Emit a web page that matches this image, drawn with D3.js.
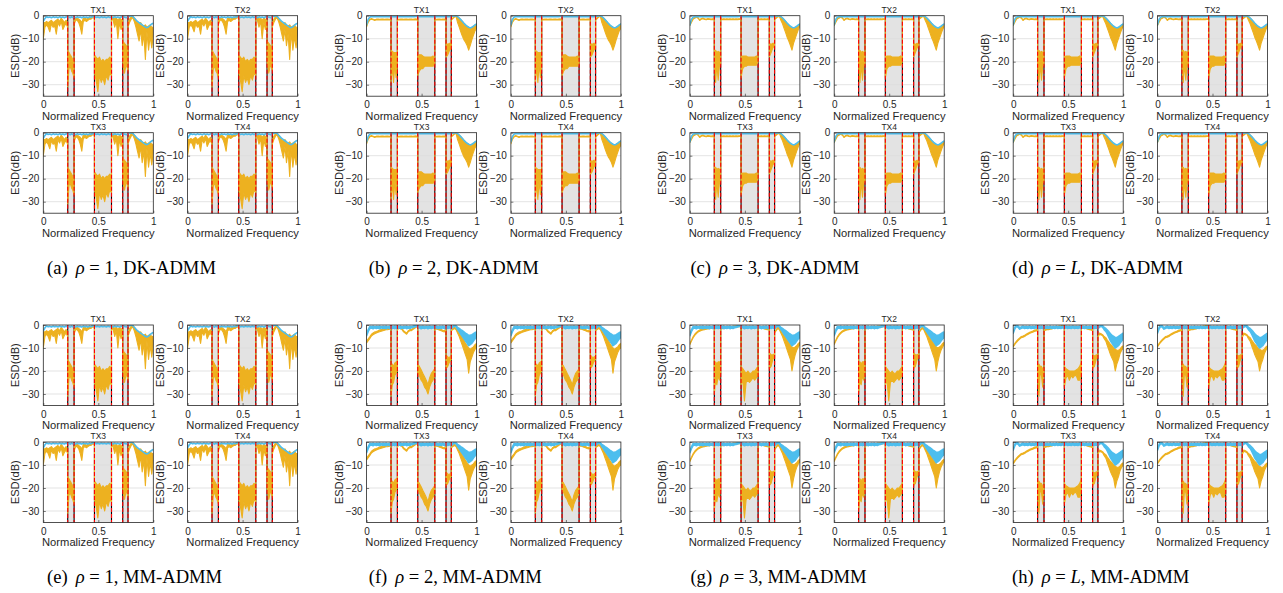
<!DOCTYPE html>
<html lang="en">
<head>
<meta charset="UTF-8">
<title>ESD per transmitter</title>
<script src="https://cdn.jsdelivr.net/npm/d3@7"></script>
<style>
  body { margin: 0; background: #fff; }
  svg { display: block; }
  text { font-family: "Liberation Sans", Arial, sans-serif; fill: #262626; }
  .caption { font-family: "Liberation Serif", "Times New Roman", serif; font-size: 18.6px; fill: #000; }
</style>
</head>
<body>
<svg id="fig" width="1283" height="593"></svg>
<script>
// frequency grid, one row per pass / stop segment (edges repeated so the drops stay vertical)
const freq = [
  0, 0.015, 0.03, 0.044, 0.059, 0.074, 0.089, 0.104, 0.118, 0.133, 0.148, 0.163, 0.178, 0.192, 0.207, 0.222,
  0.222, 0.234, 0.245, 0.257, 0.268, 0.28,
  0.28, 0.294, 0.308, 0.322, 0.336, 0.35, 0.364, 0.378, 0.392, 0.406, 0.42, 0.434, 0.45, 0.465,
  0.465, 0.48, 0.496, 0.511, 0.527, 0.542, 0.558, 0.573, 0.589, 0.604, 0.62,
  0.62, 0.635, 0.649, 0.664, 0.678, 0.693, 0.707, 0.722,
  0.722, 0.738, 0.754, 0.77,
  0.77, 0.784, 0.799, 0.813, 0.827, 0.842, 0.856, 0.871, 0.885, 0.899, 0.914, 0.928, 0.942, 0.957, 0.971, 0.986, 1
];
const stopBands = [[0.222, 0.28], [0.465, 0.62], [0.722, 0.77]];
const yTicks = [0, -10, -20, -30];
const xTicks = [0, 0.5, 1];
const txNames = ["TX1", "TX2", "TX3", "TX4"];
const panelLetters = ["(a)", "(b)", "(c)", "(d)", "(e)", "(f)", "(g)", "(h)"];
const panelRho = ["1", "2", "3", "L", "1", "2", "3", "L"];
const panelAlgo = ["DK-ADMM", "DK-ADMM", "DK-ADMM", "DK-ADMM", "MM-ADMM", "MM-ADMM", "MM-ADMM", "MM-ADMM"];

// ---- blue curves (dB) ----
const rho1Blue = [
  -2.5, -1.2, -0.4, -0.8, -0.6, -0.9, -0.5, -0.8, -0.6, -0.9, -0.5, -0.8, -0.6, -0.9, -0.5, -0.7,
  -0.7, -0.6, -0.9, -0.5, -0.8, -0.6,
  -0.6, -0.9, -0.5, -0.8, -0.6, -0.9, -0.5, -0.8, -0.6, -0.9, -0.5, -0.8, -0.3, -0.4,
  -0.4, -0.8, -0.6, -0.9, -0.5, -0.8, -0.6, -0.9, -0.5, -0.8, -0.6,
  -0.6, -0.9, -0.5, -0.8, -0.6, -0.9, -0.5, -0.7,
  -0.7, -0.6, -0.9, -0.5,
  -0.5, -0.3, 0, -0.3, -1.0, -1.8, -2.5, -3.0, -3.5, -4.0, -4.5, -5.0, -5.2, -4.8, -4.2, -3.6, -3.3
];
const dkBlue = [
  -4, -1.5, -0.6, -0.4, -0.3, -0.4, -0.3, -0.4, -0.3, -0.4, -0.3, -0.4, -0.3, -0.4, -0.3, -0.4,
  -0.4, -0.3, -0.4, -0.3, -0.4, -0.3,
  -0.3, -0.4, -0.3, -0.4, -0.3, -0.4, -0.3, -0.4, -0.3, -0.4, -0.3, -0.4, -0.3, -0.3,
  -0.3, -0.4, -0.3, -0.4, -0.3, -0.4, -0.3, -0.4, -0.3, -0.4, -0.3,
  -0.3, -0.4, -0.3, -0.4, -0.3, -0.4, -0.3, -0.4,
  -0.4, -0.3, -0.4, -0.3,
  -0.3, -0.2, -0.1, 0, -0.4, -1.0, -1.7, -2.5, -3.3, -4.0, -4.6, -5.0, -5.3, -5.0, -4.6, -4.0, -3.6
];
const mmBlueHi = [
  -4, -2, -0.6, -0.8, -0.5, -0.9, -0.6, -0.8, -0.5, -0.9, -0.6, -0.8, -0.5, -0.9, -0.6, -0.8,
  -0.8, -0.6, -0.8, -0.5, -0.9, -0.6,
  -0.6, -0.8, -0.5, -0.9, -0.6, -0.8, -0.5, -0.9, -0.6, -0.8, -0.5, -0.3, 0, -0.3,
  -0.3, -0.6, -0.8, -0.5, -0.9, -0.6, -0.8, -0.5, -0.9, -0.6, -0.8,
  -0.8, -0.5, -0.9, -0.6, -0.8, -0.5, -0.9, -0.6,
  -0.6, -0.8, -0.5, -0.9,
  -0.9, -0.5, 0, -0.3, -1, -1.5, -2, -2.5, -3, -3.5, -4, -4.5, -4.5, -4.2, -3.8, -3.3, -3
];
const mmBlueLo = [
  -4.6, -2.8, -1.5, -1.3, -1.6, -1.2, -1.5, -1.3, -1.6, -1.2, -1.5, -1.3, -1.6, -1.2, -1.5, -1.3,
  -1.3, -1.5, -1.2, -1.6, -1.3, -1.5,
  -1.5, -1.2, -1.6, -1.3, -1.5, -1.2, -1.6, -1.3, -1.5, -1.2, -1.1, -0.9, -0.6, -0.9,
  -0.9, -1.2, -1.6, -1.3, -1.5, -1.2, -1.6, -1.3, -1.5, -1.2, -1.4,
  -1.4, -1.2, -1.6, -1.3, -1.5, -1.2, -1.6, -1.3,
  -1.3, -1.5, -1.2, -1.6,
  -1.6, -1, -0.5, -0.8, -2, -3, -4, -5, -6, -7, -8, -9, -8.5, -8, -7, -6, -5.5
];
const mmLBlueHi = [
  -3, -1, 0, -0.4, -1.2, -0.8, -0.5, -0.9, -0.6, -0.9, -0.5, -0.9, -0.6, -0.9, -0.5, -0.9,
  -0.9, -0.5, -0.9, -0.6, -0.9, -0.5,
  -0.5, -0.9, -0.6, -0.9, -0.5, -0.9, -0.6, -0.9, -0.5, -0.9, -0.6, -0.9, -0.5, -0.9,
  -0.9, -0.5, -0.9, -0.6, -0.9, -0.5, -0.9, -0.6, -0.9, -0.5, -0.9,
  -0.9, -0.6, -0.9, -0.5, -0.9, -0.6, -0.9, -0.5,
  -0.5, -0.9, -0.6, -0.9,
  -0.9, -0.5, 0, -0.3, -1, -1.5, -2.2, -3, -3.8, -4.5, -5, -5.5, -5.5, -5, -4.5, -4, -3.5
];
const mmLBlueLo = [
  -3.6, -1.6, -0.6, -1, -1.8, -1.4, -1.2, -1.5, -1.3, -1.5, -1.2, -1.5, -1.3, -1.5, -1.2, -1.5,
  -1.5, -1.2, -1.5, -1.3, -1.5, -1.2,
  -1.2, -1.5, -1.3, -1.5, -1.2, -1.5, -1.3, -1.5, -1.2, -1.5, -1.3, -1.5, -1.2, -1.5,
  -1.5, -1.2, -1.5, -1.3, -1.5, -1.2, -1.5, -1.3, -1.5, -1.2, -1.5,
  -1.5, -1.3, -1.5, -1.2, -1.5, -1.3, -1.5, -1.2,
  -1.2, -1.5, -1.3, -1.5,
  -1.5, -1, -0.5, -1, -2, -2.8, -4, -5.5, -7, -8, -9, -10, -9.5, -9, -8, -7, -6
];

// ---- orange curves (dB), upper and lower envelope ----
const rho1OrangeHi = [
  -3, -3, -2.5, -3, -2.5, -2, -3, -2.5, -2, -1.5, -2.5, -1, -2, -3, -2, -3,
  -15, -16, -17, -18, -19, -20,
  -2, -1, -1, -1.5, -2, -3, -1, -1, -1.5, -1, -1, -0.5, 0, -0.5,
  -17, -18, -19, -18, -20, -19, -20, -19, -19, -18, -19,
  -1, -0.5, -1.5, -1, -2, -1, -1.5, -2,
  -11, -12, -13, -15,
  -3, -1.5, -0.5, 0, -1, -2, -3, -3.5, -3, -4, -4.5, -4, -5, -4.5, -4, -5, -5
];
const rho1OrangeLo = [
  -10, -5, -4, -5, -7, -3.5, -5, -4.5, -8, -3, -4.5, -2.5, -6, -4.5, -3.5, -5,
  -31, -23, -22, -24, -25, -27,
  -4, -2, -2, -3, -5, -8, -2.5, -2, -2.5, -2, -1.5, -1.5, -0.8, -1.2,
  -25, -28, -33, -26, -29, -27, -30, -26, -28, -25, -26,
  -1.5, -2, -5, -2.5, -10, -3, -6, -4,
  -20, -25, -21, -24,
  -5, -3, -1.5, -0.8, -2.5, -5, -8, -11, -6, -13, -8, -19, -7, -15, -9, -14, -8
];
const dk2OrangeHi = [
  -4.5, -2.5, -1.5, -1.2, -1.5, -1.8, -1.5, -1.4, -1.6, -1.5, -1.4, -1.6, -1.5, -1.4, -1.6, -1.5,
  -15, -15.5, -16, -16, -16, -16,
  -1.5, -1.6, -1.5, -1.4, -1.6, -1.5, -1.4, -1.6, -1.5, -1.4, -1.6, -1.5, -1.4, -1.5,
  -17.5, -17, -17, -17.5, -18, -18, -18, -18, -18, -17.5, -19,
  -1.5, -1.6, -1.5, -1.4, -1.6, -1.5, -1.4, -1.5,
  -12, -12.5, -12, -12,
  -1.5, -1, -0.3, 0, -0.5, -1, -1.7, -2.5, -3.3, -4, -4.6, -5, -5.2, -5, -4.6, -4, -3.6
];
const dk2OrangeLo = [
  -4.8, -2.8, -1.8, -1.5, -1.8, -2.1, -1.8, -1.7, -1.9, -1.8, -1.7, -1.9, -1.8, -1.7, -1.9, -1.8,
  -29, -22, -29, -21, -27, -22,
  -1.8, -1.9, -1.8, -1.7, -1.9, -1.8, -1.7, -1.9, -1.8, -1.7, -1.9, -1.8, -1.7, -1.8,
  -26, -24, -23, -23, -22, -22, -22, -22, -22, -22, -21,
  -1.8, -1.9, -1.8, -1.7, -1.9, -1.8, -1.7, -1.8,
  -18, -17, -15, -14,
  -1.8, -1.3, -0.6, -0.3, -3, -5, -7, -9, -10.5, -11.5, -13, -15, -13, -10.5, -8.5, -6.5, -5.5
];
const dk3OrangeHi = [
  -4, -2.5, -1.2, -0.8, -0.4, -0.8, -1.8, -1.2, -1, -1.3, -1.5, -1.2, -1.3, -1.4, -1.3, -1.4,
  -15, -15, -16, -15.5, -16, -15.5,
  -1.3, -1.4, -1.3, -1.4, -1.3, -1.4, -1.3, -1.4, -1.3, -1.4, -1.3, -1.4, -1.3, -1.3,
  -18, -17.5, -17.5, -17.5, -18, -18, -18, -18, -18, -17.5, -18.5,
  -1.3, -1.4, -1.3, -1.4, -1.3, -1.4, -1.3, -1.4,
  -12, -12.5, -12, -12,
  -1.3, -0.8, -0.2, 0, -0.4, -1, -1.7, -2.5, -3.3, -4, -4.8, -5.5, -5.5, -5.2, -4.8, -4.2, -3.8
];
const dk3OrangeLo = [
  -4.3, -2.8, -1.5, -1.1, -0.7, -1.1, -2.1, -1.5, -1.3, -1.6, -1.8, -1.5, -1.6, -1.7, -1.6, -1.7,
  -22, -29, -21, -28, -22, -21,
  -1.6, -1.7, -1.6, -1.7, -1.6, -1.7, -1.6, -1.7, -1.6, -1.7, -1.6, -1.7, -1.6, -1.6,
  -27, -23, -22, -22, -21.5, -21.5, -21.5, -21.5, -21.5, -21.5, -20,
  -1.6, -1.7, -1.6, -1.7, -1.6, -1.7, -1.6, -1.7,
  -18, -16, -14, -13,
  -1.6, -1.1, -0.5, -0.3, -2, -3.5, -5.5, -7.5, -9.5, -11, -13, -15, -12, -10, -8, -6, -4.5
];
const mm2OrangeHi = [
  -7, -6, -5, -4, -3.5, -3, -2.8, -2.5, -2.2, -2, -1.8, -1.7, -1.5, -1.5, -1.3, -1.3,
  -20, -17, -18, -16.5, -16, -16,
  -1.5, -1, -1, -1.5, -2.5, -3, -3.5, -2.5, -2, -2, -1.5, -1, -0.5, 0,
  -17, -18, -19.5, -21, -22.5, -24, -26, -23, -21, -20, -19,
  -1.3, -1.2, -1.5, -1.8, -2, -2.3, -2.5, -2,
  -13, -14, -14, -13.5,
  -2, -1.5, -1, -1.5, -2.5, -3.5, -4.5, -5.5, -6.5, -8, -9, -10, -10.5, -10, -9.5, -8.5, -8
];
const mm2OrangeLo = [
  -7.8, -6.8, -5.8, -4.8, -4.2, -3.8, -3.5, -3.2, -2.9, -2.7, -2.5, -2.3, -2.1, -2, -1.8, -1.8,
  -31, -26, -25, -22, -21, -20,
  -2, -1.5, -1.5, -2, -3, -3.5, -4, -3, -2.5, -2.5, -2, -1.5, -1, -0.5,
  -21, -22, -24, -25, -27, -28, -30, -27, -25, -24, -22,
  -1.8, -1.7, -2, -2.3, -2.5, -2.8, -3, -2.5,
  -19, -18, -16, -15,
  -2.5, -2, -1.5, -2, -3.5, -5, -7, -9, -11, -13, -15, -21, -16, -14, -12, -10.5, -10
];
const mm3OrangeHi = [
  -8, -6.5, -5, -4, -3.2, -2.6, -2.2, -1.9, -1.7, -1.5, -1.3, -1.2, -1.1, -1, -1, -1,
  -18, -16, -17, -16, -16, -17,
  -1.2, -1.1, -1, -1, -0.9, -0.8, -0.8, -0.7, -0.6, -0.5, -0.4, -0.3, -0.2, -0.1,
  -18, -19, -20, -21, -20, -21, -21, -20, -20, -19, -18,
  -0.6, -0.7, -0.8, -1, -1.2, -1.4, -1.6, -1.8,
  -12, -13, -13, -12.5,
  -3, -2, -1, -1.5, -2.5, -3.5, -4.5, -5.5, -6.5, -7.5, -8.5, -9.5, -10, -9.5, -9, -8, -7.5
];
const mm3OrangeLo = [
  -8.5, -7, -5.5, -4.5, -3.7, -3.1, -2.7, -2.4, -2.2, -2, -1.8, -1.7, -1.6, -1.5, -1.5, -1.5,
  -30, -24, -26, -22, -24, -21,
  -1.7, -1.6, -1.5, -1.5, -1.4, -1.3, -1.3, -1.2, -1.1, -1, -0.9, -0.8, -0.7, -0.6,
  -26, -24, -33, -25, -24, -25, -24, -23, -24, -23, -22,
  -1.1, -1.2, -1.3, -1.5, -1.7, -1.9, -2.1, -2.3,
  -19, -18, -15, -14,
  -3.5, -2.5, -1.5, -2, -3.5, -5, -7, -9, -11, -13, -15, -20, -16, -13, -11, -9.5, -8.5
];
const mmLOrangeHi = [
  -9, -8, -7, -6.3, -5.6, -5, -4.8, -4.5, -4, -3.6, -3.2, -2.9, -2.6, -2.3, -2.1, -2,
  -17, -17, -18, -18, -19, -19,
  -2, -1.8, -1.6, -1.5, -1.3, -1.2, -1, -0.9, -0.7, -0.6, -0.4, -0.3, -0.1, 0,
  -18, -19, -19.5, -20, -20, -20, -20, -19.5, -19, -18, -16,
  -0.5, -0.7, -0.9, -1.1, -1.3, -1.5, -1.7, -2,
  -13, -13.5, -13, -13,
  -5, -3.5, -3.8, -4.2, -5, -5.5, -6.5, -7.5, -8.5, -9, -10, -10.5, -11, -11, -10.5, -9.5, -9
];
const mmLOrangeLo = [
  -9.5, -8.5, -7.5, -6.8, -6.1, -5.5, -5.3, -5, -4.5, -4.1, -3.7, -3.4, -3.1, -2.8, -2.6, -2.5,
  -24, -31, -21, -22, -27, -21,
  -2.5, -2.3, -2.1, -2, -1.8, -1.7, -1.5, -1.4, -1.2, -1.1, -0.9, -0.8, -0.6, -0.5,
  -27, -23, -22, -24, -22, -23, -22, -22, -24, -24, -22,
  -1, -1.2, -1.4, -1.6, -1.8, -2, -2.2, -2.5,
  -19, -18, -15, -14,
  -5.5, -4, -4.3, -4.7, -6, -7, -9, -11, -13, -14.5, -16, -20, -17, -15, -12.5, -11, -10
];

// which curves go in which sub-figure
const panelBlueHi = [rho1Blue, dkBlue, dkBlue, dkBlue, rho1Blue, mmBlueHi, mmBlueHi, mmLBlueHi];
const panelBlueLo = [rho1Blue, dkBlue, dkBlue, dkBlue, rho1Blue, mmBlueLo, mmBlueLo, mmLBlueLo];
const panelOrangeHi = [rho1OrangeHi, dk2OrangeHi, dk3OrangeHi, dk3OrangeHi, rho1OrangeHi, mm2OrangeHi, mm3OrangeHi, mmLOrangeHi];
const panelOrangeLo = [rho1OrangeLo, dk2OrangeLo, dk3OrangeLo, dk3OrangeLo, rho1OrangeLo, mm2OrangeLo, mm3OrangeLo, mmLOrangeLo];

// layout
const plotW = 110, plotH = 80.5;
const panelX0 = 43.3, panelDX = 323.3;
const panelY0 = 15.7, panelDY = 309.3;
const subDX = 144.3, subDY = 117;
const blueColor = "#4DBEEE", orangeColor = "#EDB120";

const svg = d3.select("#fig");
const x = d3.scaleLinear().domain([0, 1]).range([0, plotW]);
const y = d3.scaleLinear().domain([-35, 0]).range([plotH, 0]);
const idx = d3.range(freq.length);

function band(hi, lo) {
    return d3.area()
        .x(i => x(freq[i]))
        .y0(i => y(lo[i]))
        .y1(i => y(hi[i]))(idx);
}

function drawPlot(g, p, k) {
    g.append("rect").attr("width", plotW).attr("height", plotH).attr("fill", "#fff");

    g.selectAll(".stop").data(stopBands).join("rect")
        .attr("x", d => x(d[0])).attr("width", d => x(d[1]) - x(d[0]))
        .attr("y", 0).attr("height", plotH)
        .attr("fill", "#e3e3e3");

    g.selectAll(".grid").data(yTicks.slice(1)).join("line")
        .attr("x1", 0).attr("x2", plotW)
        .attr("y1", d => y(d)).attr("y2", d => y(d))
        .attr("stroke", "#dcdcdc").attr("stroke-width", 0.8);

    const edges = stopBands.flat();
    g.selectAll(".edgeK").data(edges).join("line")
        .attr("x1", d => x(d)).attr("x2", d => x(d))
        .attr("y1", 0).attr("y2", plotH)
        .attr("stroke", "#000").attr("stroke-width", 1.1);

    const clip = "clip" + p + "_" + k;
    g.append("clipPath").attr("id", clip)
        .append("rect").attr("width", plotW).attr("height", plotH);
    const curves = g.append("g").attr("clip-path", `url(#${clip})`);

    curves.append("path")
        .attr("d", band(panelOrangeHi[p], panelOrangeLo[p]))
        .attr("fill", orangeColor).attr("stroke", orangeColor)
        .attr("stroke-width", 1.1).attr("stroke-linejoin", "round");
    curves.append("path")
        .attr("d", band(panelBlueHi[p], panelBlueLo[p]))
        .attr("fill", blueColor).attr("stroke", blueColor)
        .attr("stroke-width", 1.6).attr("stroke-linejoin", "round");

    g.selectAll(".edgeR").data(edges).join("line")
        .attr("x1", d => x(d)).attr("x2", d => x(d))
        .attr("y1", 0).attr("y2", plotH)
        .attr("stroke", "#ff0000").attr("stroke-width", 1.1)
        .attr("stroke-dasharray", "4,2");

    // axes
    const yAxis = d3.axisLeft(y).tickValues(yTicks).tickSize(-2.5).tickPadding(4).tickFormat(d3.format("d"));
    const xAxis = d3.axisBottom(x).tickValues(xTicks).tickSize(-2.5).tickPadding(5).tickFormat(d => d === 0.5 ? "0.5" : d3.format("d")(d));
    const ya = g.append("g").call(yAxis);
    const xa = g.append("g").attr("transform", `translate(0,${plotH})`).call(xAxis);
    [ya, xa].forEach(a => {
        a.select(".domain").remove();
        a.selectAll("line").attr("stroke", "#262626").attr("stroke-width", 0.6);
        a.selectAll("text").attr("font-size", 10).attr("fill", "#262626")
            .attr("font-family", "Liberation Sans, Arial, sans-serif");
    });
    g.append("rect").attr("width", plotW).attr("height", plotH)
        .attr("fill", "none").attr("stroke", "#262626").attr("stroke-width", 0.8);

    g.append("text").attr("x", plotW / 2).attr("y", -2.6)
        .attr("text-anchor", "middle").attr("font-size", 8.5).text(txNames[k]);
    g.append("text").attr("x", plotW / 2).attr("y", plotH + 23.5)
        .attr("text-anchor", "middle").attr("font-size", 11.2).text("Normalized Frequency");
    g.append("text")
        .attr("transform", `translate(-28,${plotH / 2}) rotate(-90)`)
        .attr("text-anchor", "middle").attr("dominant-baseline", "central")
        .attr("font-size", 11.2).text("ESD(dB)");
}

for (let p = 0; p < 8; p++) {
    const col = p % 4, row = Math.floor(p / 4);
    const ox = panelX0 + col * panelDX, oy = panelY0 + row * panelDY;
    for (let k = 0; k < 4; k++) {
        const g = svg.append("g")
            .attr("transform", `translate(${ox + (k % 2) * subDX},${oy + Math.floor(k / 2) * subDY})`);
        drawPlot(g, p, k);
    }
    const cap = svg.append("text").attr("class", "caption")
        .attr("x", 47 + col * 321.7).attr("y", 274 + row * panelDY);
    cap.append("tspan").text(panelLetters[p]);
    cap.append("tspan").attr("dx", 8).attr("font-style", "italic").text("\u03C1");
    cap.append("tspan").text(" = ");
    if (panelRho[p] === "L") cap.append("tspan").attr("font-style", "italic").text("L");
    else cap.append("tspan").text(panelRho[p]);
    cap.append("tspan").text(", " + panelAlgo[p]);
}
</script>
</body>
</html>
